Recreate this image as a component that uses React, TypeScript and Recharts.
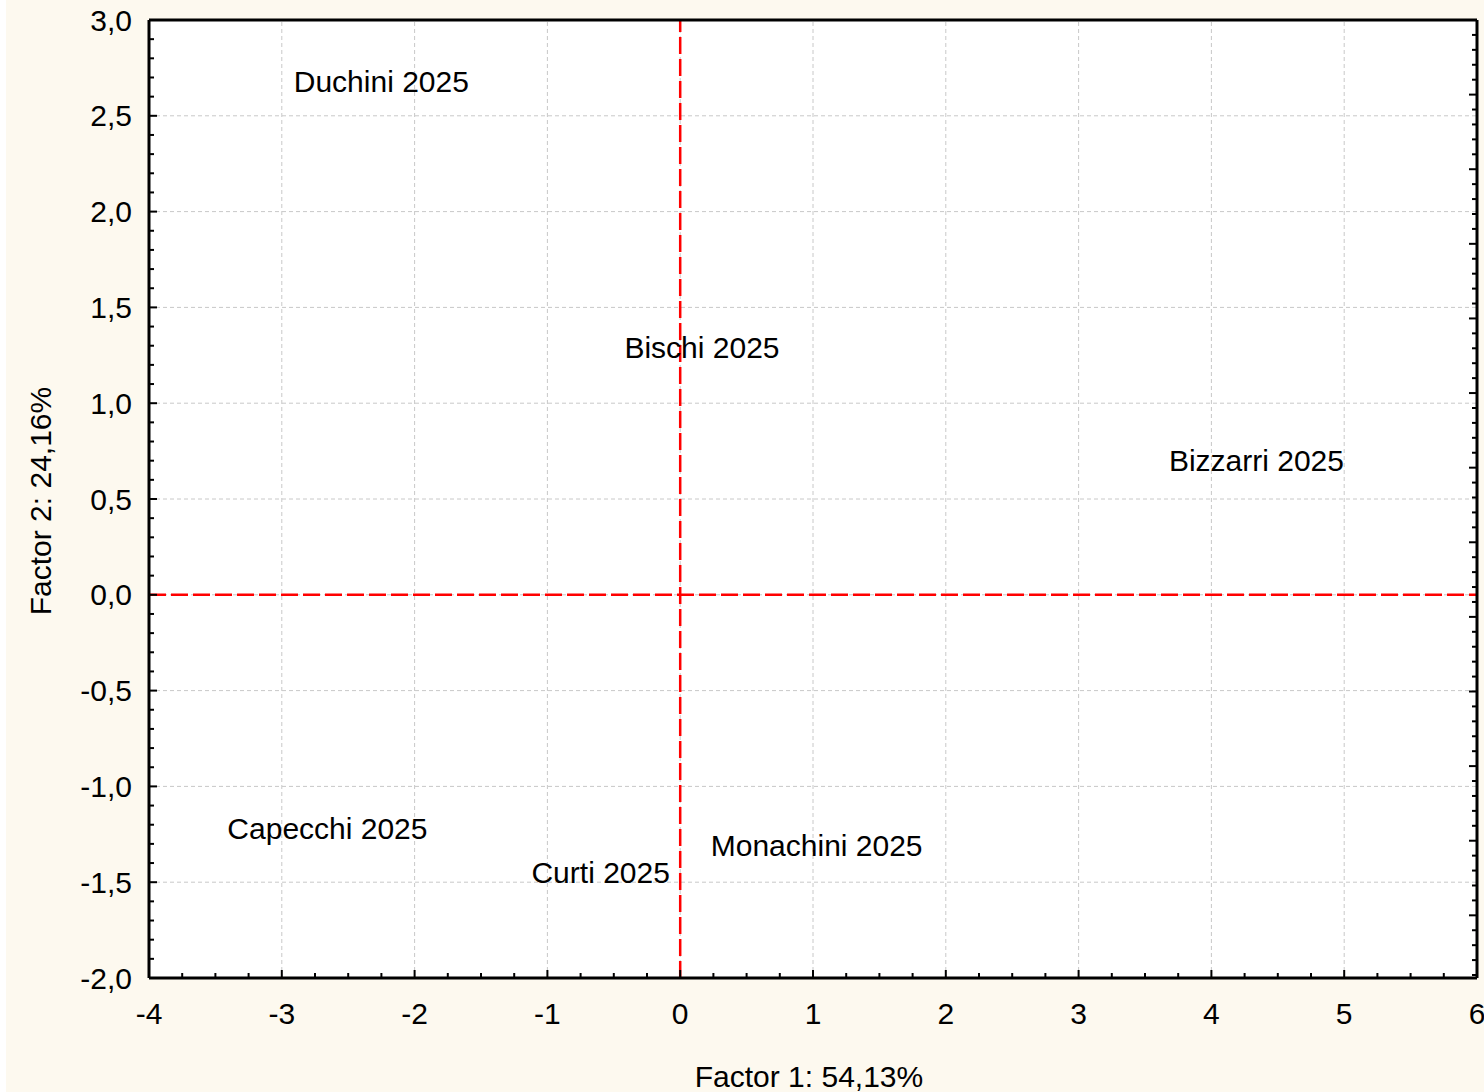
import React from "react";
import {
	ReferenceLine,
	Scatter,
	ScatterChart,
	XAxis,
	YAxis,
	CartesianGrid,
} from "recharts";

// case labels and their factor scores
const CASE_NAMES = [
	"Duchini 2025",
	"Bischi 2025",
	"Bizzarri 2025",
	"Capecchi 2025",
	"Curti 2025",
	"Monachini 2025",
];
const FACTOR_1 = [-2.91, -0.42, 3.68, -3.41, -1.12, 0.23];
const FACTOR_2 = [2.68, 1.29, 0.7, -1.22, -1.45, -1.31];

// axis ticks
const X_MAJOR = [-4, -3, -2, -1, 0, 1, 2, 3, 4, 5, 6];
const Y_MAJOR = [-2, -1.5, -1, -0.5, 0, 0.5, 1, 1.5, 2, 2.5, 3];
const X_TICKS = Array.from({ length: 41 }, (_, i) => -4 + i * 0.25);
const Y_TICKS = Array.from({ length: 51 }, (_, i) => Math.round(-20 + i) / 10);
// the unlabeled top and right axes use their own spacing
const TOP_TICKS = Array.from({ length: 53 }, (_, i) => i);
const RIGHT_TICKS = Array.from({ length: 65 }, (_, i) => -i);

const FONT = "'Liberation Sans', Arial, sans-serif";
const FONT_SIZE = 30;
const CREAM = "#fdf9ef";
const RED = "#ff0000";

const data = CASE_NAMES.map((name, i) => ({
	name,
	x: FACTOR_1[i],
	y: FACTOR_2[i],
}));

const fmt = (v: number) => v.toFixed(1).replace(".", ",");

function BottomTick({ x, y, payload }: any) {
	const major = Number.isInteger(payload.value);
	return (
		<g>
			<line x1={x} y1={y} x2={x} y2={y - (major ? 8 : 5)} stroke="#000" strokeWidth={2} />
			{major && (
				<text x={x} y={y + 46} textAnchor="middle" fontSize={FONT_SIZE} fontFamily={FONT} fill="#000">
					{payload.value}
				</text>
			)}
		</g>
	);
}

function LeftTick({ x, y, payload }: any) {
	const major = Math.round(payload.value * 10) % 5 === 0;
	return (
		<g>
			<line x1={x} y1={y} x2={x + (major ? 8 : 5)} y2={y} stroke="#000" strokeWidth={2} />
			{major && (
				<text
					x={x - 17}
					y={y}
					dy="0.35em"
					textAnchor="end"
					fontSize={FONT_SIZE}
					fontFamily={FONT}
					fill="#000"
				>
					{fmt(payload.value)}
				</text>
			)}
		</g>
	);
}

function TopTick({ x, y, payload }: any) {
	const major = payload.value % 4 === 0;
	return <line x1={x} y1={y} x2={x} y2={y + (major ? 8 : 5)} stroke="#000" strokeWidth={2} />;
}

function RightTick({ x, y, payload }: any) {
	const major = payload.value % 5 === 0;
	return <line x1={x} y1={y} x2={x - (major ? 8 : 5)} y2={y} stroke="#000" strokeWidth={2} />;
}

function XTitle({ viewBox }: any) {
	return (
		<text
			x={viewBox.x + viewBox.width / 2 - 4}
			y={viewBox.y + viewBox.height - 5}
			textAnchor="middle"
			fontSize={FONT_SIZE}
			fontFamily={FONT}
			fill="#000"
		>
			Factor 1: 54,13%
		</text>
	);
}

function YTitle({ viewBox }: any) {
	const cx = viewBox.x + 34;
	const cy = viewBox.y + viewBox.height / 2 + 2;
	return (
		<text
			x={cx}
			y={cy}
			transform={`rotate(-90 ${cx} ${cy})`}
			textAnchor="middle"
			dy="0.35em"
			fontSize={FONT_SIZE}
			fontFamily={FONT}
			fill="#000"
		>
			Factor 2: 24,16%
		</text>
	);
}

function CaseLabel({ cx, cy, payload }: any) {
	return (
		<text x={cx} y={cy} dy="0.35em" fontSize={FONT_SIZE} fontFamily={FONT} fill="#000">
			{payload.name}
		</text>
	);
}

const axisLine = { stroke: "#000", strokeWidth: 3 };

export default function App() {
	return (
		<div
			style={{
				position: "absolute",
				left: 0,
				top: 0,
				width: 1484,
				height: 1092,
				background: "#ffffff",
			}}
		>
			<div style={{ position: "absolute", left: 6, top: 0, width: 1478, height: 1092, background: CREAM }}>
				<ScatterChart width={1478} height={1092} margin={{ top: 19, right: 6, bottom: 0, left: 0 }}>
					<CartesianGrid fill="#ffffff" horizontal={false} vertical={false} />
					<XAxis
						type="number"
						dataKey="x"
						domain={[-4, 6]}
						ticks={X_TICKS}
						interval={0}
						allowDataOverflow
						height={114}
						tickSize={0}
						tickMargin={0}
						tickLine={false}
						axisLine={axisLine}
						tick={<BottomTick />}
						label={<XTitle />}
					/>
					<YAxis
						type="number"
						dataKey="y"
						domain={[-2, 3]}
						ticks={Y_TICKS}
						interval={0}
						allowDataOverflow
						width={143}
						tickSize={0}
						tickMargin={0}
						tickLine={false}
						axisLine={axisLine}
						tick={<LeftTick />}
						label={<YTitle />}
					/>
					<XAxis
						xAxisId="top"
						orientation="top"
						type="number"
						domain={[0, 52]}
						ticks={TOP_TICKS}
						interval={0}
						allowDataOverflow
						height={1}
						tickSize={0}
						tickMargin={0}
						tickLine={false}
						axisLine={axisLine}
						tick={<TopTick />}
					/>
					<YAxis
						yAxisId="right"
						orientation="right"
						type="number"
						domain={[-64.2, 0]}
						ticks={RIGHT_TICKS}
						interval={0}
						allowDataOverflow
						width={1}
						tickSize={0}
						tickMargin={0}
						tickLine={false}
						axisLine={axisLine}
						tick={<RightTick />}
					/>
					{X_MAJOR.slice(1, -1).map((v) => (
						<ReferenceLine key={`gx${v}`} x={v} stroke="#c8c8c8" strokeDasharray="4 3" />
					))}
					{Y_MAJOR.slice(1, -1).map((v) => (
						<ReferenceLine key={`gy${v}`} y={v} stroke="#c8c8c8" strokeDasharray="4 3" />
					))}
					<Scatter data={data} shape={<CaseLabel />} isAnimationActive={false} />
					<ReferenceLine x={0} stroke={RED} strokeWidth={2.5} strokeDasharray="17 5" />
					<ReferenceLine y={0} stroke={RED} strokeWidth={2.5} strokeDasharray="17 5" />
				</ScatterChart>
			</div>
		</div>
	);
}
